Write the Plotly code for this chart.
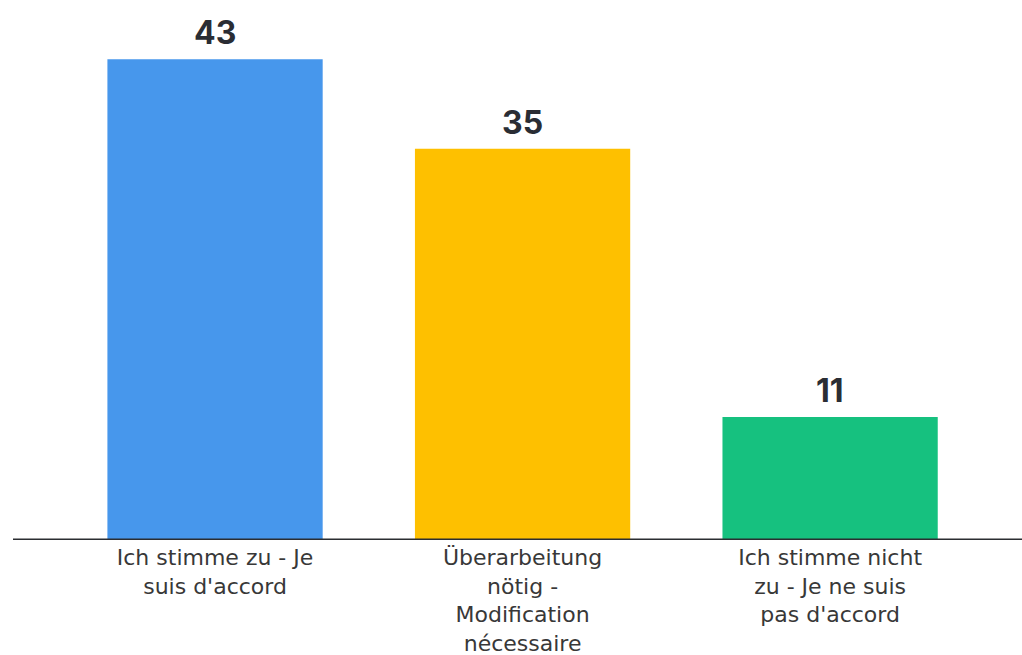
import plotly.graph_objects as go

categories = ["Ich stimme zu - Je<br>suis d'accord",
              "Überarbeitung<br>nötig -<br>Modification<br>nécessaire",
              "Ich stimme nicht<br>zu - Je ne suis<br>pas d'accord"]
values = [43, 35, 11]
colors = ["#4797EC", "#FEC000", "#16C17F"]

fig = go.Figure()
fig.add_trace(go.Bar(x=list(range(len(categories))), y=values, marker_color=colors,
                     marker_line_width=0, width=0.7, hoverinfo="skip"))

for i, v in enumerate(values):
    fig.add_annotation(x=i, y=v, text=f"<b>{v}</b>", showarrow=False, yanchor="bottom", yshift=5,
                       font=dict(family="Inter", size=32, color="#2a2d34"))

fig.update_layout(
    width=1022, height=655,
    margin=dict(l=13, r=0, t=0, b=115),
    paper_bgcolor="white", plot_bgcolor="white",
    showlegend=False,
    xaxis=dict(range=[-0.657, 2.624], tickmode="array", tickvals=list(range(len(categories))),
               ticktext=categories, showgrid=False, zeroline=False, showline=False, ticks="",
               ticklabelstandoff=2, automargin=False,
               tickfont=dict(family="DejaVu Sans", size=22, color="#383838"), fixedrange=True),
    yaxis=dict(range=[0, 48.3], visible=False, showgrid=False, zeroline=False, fixedrange=True),
)
fig.add_shape(type="line", xref="paper", yref="y", x0=0, x1=1, y0=0, y1=0,
              line=dict(color="#2b2d31", width=3))

fig.write_html("out.html")
